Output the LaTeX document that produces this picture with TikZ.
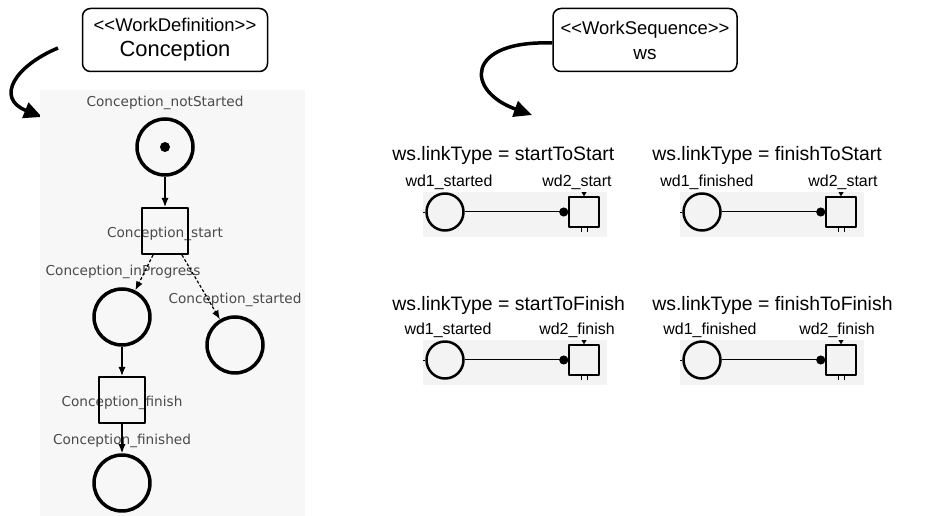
\documentclass[tikz,border=0pt]{standalone}
\usepackage{fontspec}
\setmainfont{Liberation Sans}
\newfontfamily\petrifont{DejaVu Sans}
\usepackage[x11names, svgnames, rgb]{xcolor}
\usepackage{tikz}
\usetikzlibrary{arrows,arrows.meta,shapes}

\definecolor{panelgray}{HTML}{F7F7F7}
\definecolor{stripgray}{HTML}{F3F3F3}
\definecolor{labelgray}{HTML}{4A4A4A}

\begin{document}
\begin{tikzpicture}[>=latex',line join=bevel,
  wbox/.style={draw,rounded corners=8bp,line width=1.5bp,align=center,minimum width=185bp,minimum height=63bp,inner sep=0pt,font=\fontsize{18.5}{25}\selectfont},
  place/.style={draw,circle,line width=3.5bp,minimum size=56bp,inner sep=0pt},
  trans/.style={draw,rectangle,line width=2bp,minimum size=46bp,inner sep=0pt},
  plabel/.style={text=labelgray,font=\petrifont\fontsize{13.7}{15}\selectfont,inner sep=0pt},
  parc/.style={-{Latex[length=9bp,width=7bp]},line width=1.2bp},
  bigarrow/.style={-{Triangle[length=18bp,width=16bp]},line width=3.5bp},
  ttl/.style={anchor=west,inner sep=0pt,font=\fontsize{19.5}{22}\selectfont},
  wlabel/.style={inner sep=0pt,font=\fontsize{16}{18}\selectfont},
  smallplace/.style={draw,circle,line width=2.5bp,minimum size=37bp,inner sep=0pt},
  smalltrans/.style={draw,rectangle,line width=1.5bp,minimum size=30bp,inner sep=0pt},
  readarc/.style={-{Circle[length=9bp]},line width=1bp},
]
\pgfsetlinewidth{0.7bp}
\useasboundingbox (0bp,0bp) rectangle (928bp,516bp);
%%
\node (wd) at (175bp,476bp) [wbox] {<{}<WorkDefinition>{}>\\{\fontsize{22}{25}\selectfont Conception}};
\node (ws) at (645bp,476bp) [wbox, minimum width=184bp] {<{}<WorkSequence>{}>\\{\fontsize{19}{25}\selectfont ws}};
\coordinate (wdFrom) at (58bp,468bp);
\coordinate (wdTo) at (42bp,399bp);
\coordinate (wsTo) at (532bp,401bp);
\draw [bigarrow] (wdFrom) .. controls (15bp,450bp) and (-5bp,418bp) .. (wdTo);
\draw [bigarrow] ([yshift=-3bp]ws.west) .. controls (465bp,476bp) and (465bp,425bp) .. (wsTo);
%% petri net of the work definition
\fill [panelgray] (40bp,0bp) rectangle (305bp,426bp);
\node (lnotStarted) at (165bp,413bp) [plabel] {Conception\_notStarted};
\node (lstart) at (165bp,282bp) [plabel] {Conception\_start};
\node (linProgress) at (123bp,244bp) [plabel] {Conception\_inProgress};
\node (lstarted) at (235bp,216bp) [plabel] {Conception\_started};
\node (lfinish) at (122bp,113bp) [plabel] {Conception\_finish};
\node (lfinished) at (122bp,75bp) [plabel] {Conception\_finished};
  \node (notStarted) at (165bp,369bp) [place] {};
  \fill (notStarted) circle (5bp);
  \node (start) at (165bp,285bp) [trans] {};
  \node (inProgress) at (122bp,199bp) [place] {};
  \node (started) at (235bp,171bp) [place] {};
  \node (finish) at (122bp,116bp) [trans] {};
  \node (finished) at (122bp,33bp) [place] {};
  \draw [parc] (notStarted) -- (start);
  \draw [parc, densely dashed] ([xshift=-12bp]start.south) -- (inProgress);
  \draw [parc, densely dashed] ([xshift=17bp]start.south) -- (started);
  \draw [parc] (inProgress) -- (finish);
  \draw [parc] (finish) -- (finished);
%% link types
\node (ttlSS) at (392bp,361bp) [ttl] {ws.linkType = startToStart};
\fill [stripgray] (423bp,279bp) rectangle (607bp,324bp);
\node (lwdSS) at (449bp,334bp) [wlabel] {wd1\_started};
\node (lwtSS) at (577bp,334bp) [wlabel] {wd2\_start};
  \node (wdSS) at (445bp,304bp) [smallplace] {};
  \node (wtSS) at (584bp,304bp) [smalltrans] {};
  \draw [readarc] (wdSS) -- (wtSS);
  \draw (wdSS.west) -- ++(-2bp,0bp);
  \fill (wtSS.north) ++(-2.5bp,4bp) -- ++(5bp,0bp) -- ++(-2.5bp,-4bp) -- cycle;
  \draw (wtSS.south) ++(-3bp,0bp) -- ++(0bp,-4bp) ++(6bp,4bp) -- ++(0bp,-4bp);
%
\node (ttlFS) at (652bp,361bp) [ttl] {ws.linkType = finishToStart};
\fill [stripgray] (680bp,279bp) rectangle (864bp,324bp);
\node (lwdFS) at (707bp,334bp) [wlabel] {wd1\_finished};
\node (lwtFS) at (843bp,334bp) [wlabel] {wd2\_start};
  \node (wdFS) at (702bp,304bp) [smallplace] {};
  \node (wtFS) at (841bp,304bp) [smalltrans] {};
  \draw [readarc] (wdFS) -- (wtFS);
  \draw (wdFS.west) -- ++(-2bp,0bp);
  \fill (wtFS.north) ++(-2.5bp,4bp) -- ++(5bp,0bp) -- ++(-2.5bp,-4bp) -- cycle;
  \draw (wtFS.south) ++(-3bp,0bp) -- ++(0bp,-4bp) ++(6bp,4bp) -- ++(0bp,-4bp);
%
\node (ttlSF) at (392bp,211bp) [ttl] {ws.linkType = startToFinish};
\fill [stripgray] (423bp,131bp) rectangle (607bp,176bp);
\node (lwdSF) at (448bp,186bp) [wlabel] {wd1\_started};
\node (lwtSF) at (577bp,186bp) [wlabel] {wd2\_finish};
  \node (wdSF) at (445bp,156bp) [smallplace] {};
  \node (wtSF) at (584bp,156bp) [smalltrans] {};
  \draw [readarc] (wdSF) -- (wtSF);
  \draw (wdSF.west) -- ++(-2bp,0bp);
  \fill (wtSF.north) ++(-2.5bp,4bp) -- ++(5bp,0bp) -- ++(-2.5bp,-4bp) -- cycle;
  \draw (wtSF.south) ++(-3bp,0bp) -- ++(0bp,-4bp) ++(6bp,4bp) -- ++(0bp,-4bp);
%
\node (ttlFF) at (652bp,211bp) [ttl] {ws.linkType = finishToFinish};
\fill [stripgray] (680bp,131bp) rectangle (864bp,176bp);
\node (lwdFF) at (710bp,186bp) [wlabel] {wd1\_finished};
\node (lwtFF) at (837bp,186bp) [wlabel] {wd2\_finish};
  \node (wdFF) at (702bp,156bp) [smallplace] {};
  \node (wtFF) at (841bp,156bp) [smalltrans] {};
  \draw [readarc] (wdFF) -- (wtFF);
  \draw (wdFF.west) -- ++(-2bp,0bp);
  \fill (wtFF.north) ++(-2.5bp,4bp) -- ++(5bp,0bp) -- ++(-2.5bp,-4bp) -- cycle;
  \draw (wtFF.south) ++(-3bp,0bp) -- ++(0bp,-4bp) ++(6bp,4bp) -- ++(0bp,-4bp);
%
\end{tikzpicture}
\end{document}
